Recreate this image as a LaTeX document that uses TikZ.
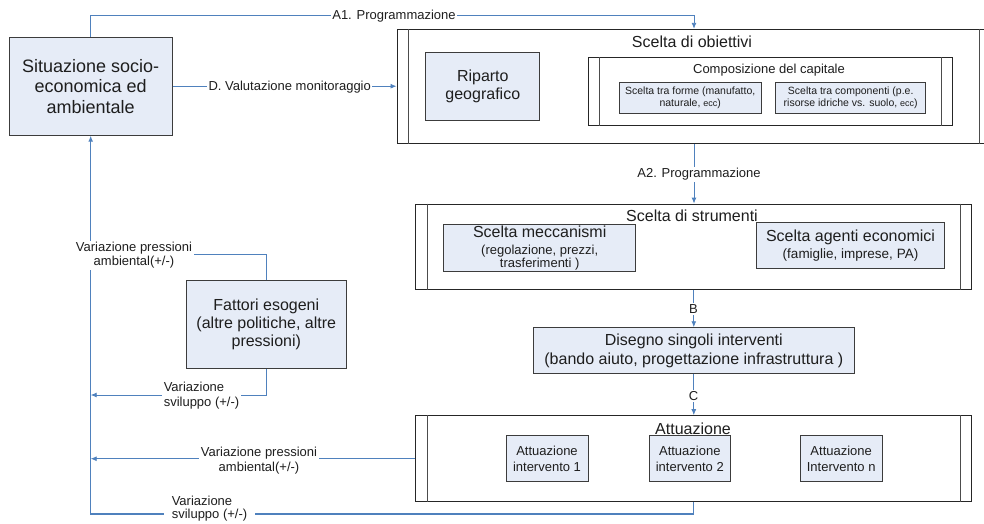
\documentclass[tikz,border=0pt]{standalone}
\usepackage{fontspec}
\setmainfont{Liberation Sans}
\usetikzlibrary{arrows.meta}
\usetikzlibrary{calc}

\definecolor{linkblue}{RGB}{79,129,189}
\definecolor{boxfill}{RGB}{230,236,247}
\definecolor{boxline}{RGB}{60,60,60}
\definecolor{textgray}{RGB}{30,30,30}

\newcommand{\fsz}[2]{\fontsize{#1}{#2}\selectfont}

\begin{document}
\begin{tikzpicture}[x=1pt, y=-1pt,
    box/.style = {draw=boxline, line width=0.9pt, fill=boxfill, inner sep=0pt, align=center, text=textgray},
    frame/.style = {draw=black!85, line width=1pt, fill=white, inner sep=0pt},
    bar/.style = {draw=black!70, line width=0.9pt},
    head/.style = {inner sep=1pt, anchor=base, text=textgray, font=\fsz{16}{18}},
    lbl/.style = {fill=white, inner sep=1.5pt, align=center, text=textgray, font=\fsz{13}{14.5}},
    link/.style = {draw=linkblue, line width=0.9pt, -{Latex[length=6pt,width=5pt]}}]
    \clip (0,0) rectangle (984,523);

    \node [box, minimum width=163pt, minimum height=98pt, font=\fsz{18}{20.5}] (sit) at (90.7,86.2) {Situazione socio-\\economica ed\\ambientale};

    \node [frame, minimum width=594pt, minimum height=114pt] (obj) at (694,86.3) {};
    \node [head] (objt) at (692,47.4) {Scelta di obiettivi};
    \node [box, minimum width=114pt, minimum height=68pt, font=\fsz{16}{18.3}] (rip) at (482.8,86.2) {Riparto\\geografico};
    \node [frame, minimum width=364.4pt, minimum height=68pt] (comp) at (770.5,91.7) {};
    \node [head, font=\fsz{13}{15}] (compt) at (769,73.7) {Composizione del capitale};
    \node [box, minimum width=141.7pt, minimum height=30.6pt, font=\fsz{10.5}{11.5}] (forme) at (690.2,98) {Scelta tra forme (manufatto,\\naturale, {\fsz{9}{11.5}ecc})};
    \node [box, minimum width=150pt, minimum height=30.6pt, font=\fsz{10.5}{11.5}] (compon) at (850.7,98) {Scelta tra componenti (p.e.\\risorse idriche vs. suolo, {\fsz{9}{11.5}ecc})};

    \node [frame, minimum width=555.7pt, minimum height=85.3pt] (str) at (693.8,246.7) {};
    \node [head] (strt) at (692,221.7) {Scelta di strumenti};
    \node [box, minimum width=192pt, minimum height=47.7pt, font=\fsz{13}{12.5}] (mecc) at (539.7,247.8) {{\fsz{16}{18}Scelta meccanismi}\\[5pt](regolazione, prezzi,\\trasferimenti )};
    \node [box, minimum width=187.6pt, minimum height=46pt, font=\fsz{13.5}{14}] (agen) at (850.5,245.3) {{\fsz{16}{18}Scelta agenti economici}\\[3pt](famiglie, imprese, PA)};

    \node [box, minimum width=321pt, minimum height=45.6pt, font=\fsz{16}{19}] (dis) at (693.8,350.5) {Disegno singoli interventi\\(bando aiuto, progettazione infrastruttura )};

    \node [frame, minimum width=555.7pt, minimum height=86pt] (att) at (693.8,458.7) {};
    \node [head] (attt) at (693,434) {Attuazione};
    \node [box, minimum width=82pt, minimum height=45.6pt, font=\fsz{13}{16}] (att1) at (547,458.5) {Attuazione\\intervento 1};
    \node [box, minimum width=81.7pt, minimum height=45.6pt, font=\fsz{13}{16}] (att2) at (689.8,458.5) {Attuazione\\intervento 2};
    \node [box, minimum width=82.3pt, minimum height=45.6pt, font=\fsz{13}{16}] (attn) at (841.2,458.5) {Attuazione\\Intervento n};

    \node [box, minimum width=160.7pt, minimum height=87.6pt, font=\fsz{16}{18.3}] (fatt) at (266.3,324.5) {Fattori esogeni\\(altre politiche, altre\\pressioni)};

    % double side bars of the frames
    \foreach \n/\d in {obj/12, comp/11.5, str/11.7, att/11.7}
        \draw [bar] ([xshift=\d pt]\n.north west) -- ([xshift=\d pt]\n.south west)
                    ([xshift=-\d pt]\n.north east) -- ([xshift=-\d pt]\n.south east);

    \coordinate (top) at (394,15.7);
    \coordinate (corner) at (90.7,514);
    \coordinate (jup) at (90.7,254);
    \coordinate (jlow) at (90.7,395);

    \draw [link] (sit.north) |- (top) -| (obj.north);
    \draw [link] (sit.east) -- (sit.east -| obj.west);
    \draw [link] (obj.south) -- (obj.south |- str.north);
    \draw [link] (str) -- (dis);
    \draw [link] (dis) -- (att);
    \draw [link, line width=1.3pt] (att.south) |- (corner) -- (sit.south);
    \draw [link] (att.west) -- (att.west -| corner);
    \draw [link] (fatt.south) |- (jlow);
    \draw [link] (fatt.north) |- (jup);

    % labels on the connectors
    \node [lbl] (a1) at (394,15.7) {A1. Programmazione};
    \node [lbl] (dl) at (289.7,87.5) {D. Valutazione monitoraggio};
    \node [lbl] (a2) at (699,174.3) {A2. Programmazione};
    \node [lbl] (bl) at (693.5,309) {B};
    \node [lbl] (cl) at (693.5,395.7) {C};
    \node [lbl] (vp1) at (134,255.3) {Variazione pressioni\\ambiental(+/-)};
    \node [lbl, align=left] (vs1) at (201.5,395.5) {Variazione\\sviluppo (+/-)};
    \node [lbl] (vp2) at (259,460.5) {Variazione pressioni\\ambiental(+/-)};
    \node [lbl, align=left, inner xsep=8pt, font=\fsz{13}{13.5}] (vs2) at (209.5,508.5) {Variazione\\sviluppo (+/-)};
\end{tikzpicture}
\end{document}
